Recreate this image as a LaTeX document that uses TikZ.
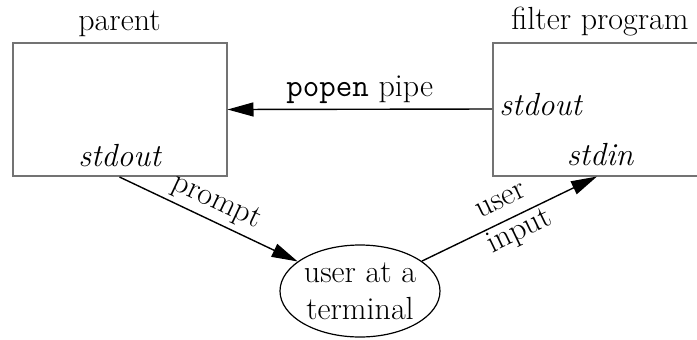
\documentclass[tikz,border=0pt]{standalone}
\usetikzlibrary{positioning,arrows.meta,shapes.geometric}

\begin{document}
\begin{tikzpicture}[
  x=0.5pt, y=-0.5pt,
  font=\fontsize{16}{18.5}\selectfont,
  proc/.style={draw=black!55, line width=1pt, minimum width=107pt,
               minimum height=66.5pt, inner sep=0pt},
  term/.style={ellipse, draw, line width=0.6pt, minimum width=80pt,
               minimum height=46pt, inner sep=0pt, align=center},
  arr/.style={-{Triangle[length=13pt,width=7pt]}, line width=0.7pt}]

\clip (0,0) rectangle (697,339);

% the two processes
\node[proc] (parent) at (119.5,109.5) {};
\node[proc, minimum width=113.5pt] (filter) at (606.5,109) {};
\node[anchor=base] (parentname) at ([yshift=6pt]parent.north) {parent};
\node[anchor=base] (filtername) at ([xshift=-3.25pt,yshift=6pt]filter.north) {filter program};
\node[anchor=base] (pout) at ([yshift=5.5pt]parent.south) {\itshape stdout};
\node[anchor=base west, inner sep=0pt] (fout) at ([xshift=3.5pt,yshift=-3pt]filter.west) {\itshape stdout};
\node[anchor=base] (fin) at ([xshift=-3.25pt,yshift=5.5pt]filter.south) {\itshape stdin};

% terminal
\node[term] (user) at (360,291) {user at a\\terminal};
\coordinate (inpt) at ([xshift=-4.75pt]filter.south);

% data flow
\draw[arr] (filter.west) -- node[midway, anchor=base, yshift=6.5pt] (pipelbl) {\texttt{popen} pipe} (parent.east);
\draw[arr] (parent.south) -- node[pos=0.5, above, sloped, inner sep=2.5pt] (promptlbl) {prompt} (user);
\draw[arr] (user) -- node[pos=0.5, above, sloped, inner sep=6pt] (inlbl1) {user}
  node[pos=0.52, below, sloped, inner sep=1pt] (inlbl2) {input} (inpt);
\end{tikzpicture}
\end{document}
